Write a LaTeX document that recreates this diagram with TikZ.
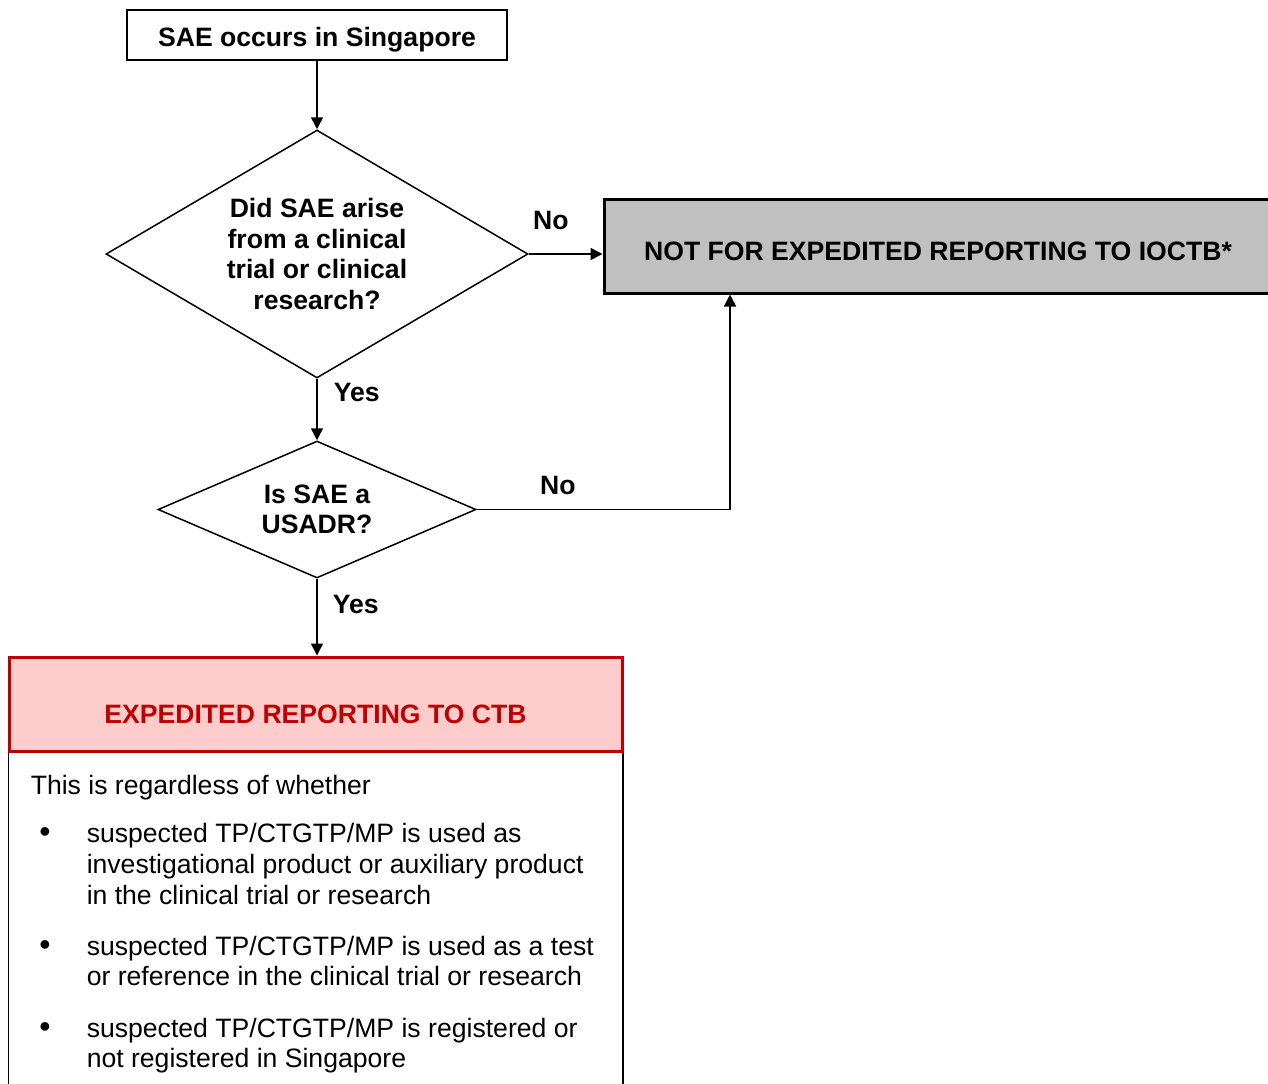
\documentclass[tikz,border=0pt]{standalone}
\usepackage{fontspec}
\setmainfont{Liberation Sans}
\usetikzlibrary{arrows.meta,shapes.geometric}

\definecolor{boxgray}{HTML}{C0C0C0}
\definecolor{ctbred}{HTML}{C00000}
\definecolor{ctbpink}{HTML}{FFCCCC}

\begin{document}
\begin{tikzpicture}[
  x=0.5pt, y=-0.5pt,
  >={Triangle[length=6pt,width=6pt]},
  line width=0.75pt,
  every node/.style={font=\fontsize{13.3}{15.25}\selectfont, inner sep=0pt},
  startbox/.style={draw, fill=white, minimum width=190pt, minimum height=25pt,
    text height=14pt, text depth=2.4pt, font=\fontsize{13.3}{15.25}\selectfont\bfseries},
  decision/.style={diamond, draw, align=center, font=\fontsize{13.3}{15.25}\selectfont\bfseries},
  lbl/.style={font=\fontsize{13.3}{15.25}\selectfont\bfseries},
  notbox/.style={draw, line width=1.5pt, fill=boxgray, minimum width=334pt, minimum height=47pt,
    text height=22pt, text depth=7.4pt, font=\fontsize{13.3}{15.25}\selectfont\bfseries},
  ctbbox/.style={draw=ctbred, line width=1.5pt, fill=ctbpink, text=ctbred, minimum width=306.5pt, minimum height=47pt,
    text height=30pt, text depth=10.4pt, font=\fontsize{13.3}{15.25}\selectfont\bfseries},
  bodytext/.style={anchor=base west}
]
\useasboundingbox (0,0) rectangle (1268,1083);

% flow
\node[startbox] (start) at (317,35) {SAE occurs in Singapore};
\node[decision, aspect=1.7, minimum width=211pt, minimum height=124pt] (trial) at (317,254)
  {Did SAE arise\\from a clinical\\trial or clinical\\research?};
\node[decision, aspect=2.3, minimum width=159pt, minimum height=68.5pt] (usadr) at (317,509.5)
  {Is SAE a\\USADR?};
\node[notbox] (notfor) at (938,246) {NOT FOR EXPEDITED REPORTING TO IOCTB*};
\node[ctbbox] (ctb) at (315.5,704) {EXPEDITED REPORTING TO CTB};
\coordinate (turn) at (730,509.5);

\draw[->] (start) -- (trial);
\draw[->] (trial.east) -- node[lbl, above=12pt, pos=0.3]{No} (trial.east -| notfor.west);
\draw[->] (trial) -- node[lbl, right=8pt, pos=0.22]{Yes} (usadr);
\draw[->] (usadr.east) -- node[lbl, above=7pt, pos=0.32]{No} (turn) -- (turn |- notfor.south);
\draw[->] (usadr.south) -- node[lbl, right=7.5pt, pos=0.34]{Yes} (usadr.south |- ctb.north);

% open box under the red header
\draw (ctb.south west) ++(0.75,0) -- ++(0,360);
\draw (ctb.south east) ++(-0.75,0) -- ++(0,360);

\node[bodytext] (intro) at (30,794) {This is regardless of whether};
\foreach \y in {842,955,1037}
  \node[anchor=base, font=\fontsize{16}{16}\selectfont] (dot\y) at (45,\y) {\textbullet};
\foreach \y/\t in {842/{suspected TP/CTGTP/MP is used as},
                   873/{investigational product or auxiliary product},
                   904/{in the clinical trial or research},
                   955/{suspected TP/CTGTP/MP is used as a test},
                   985/{or reference in the clinical trial or research},
                   1037/{suspected TP/CTGTP/MP is registered or},
                   1067/{not registered in Singapore}}
  \node[bodytext] (line\y) at (86,\y) {\t};
\end{tikzpicture}
\end{document}
